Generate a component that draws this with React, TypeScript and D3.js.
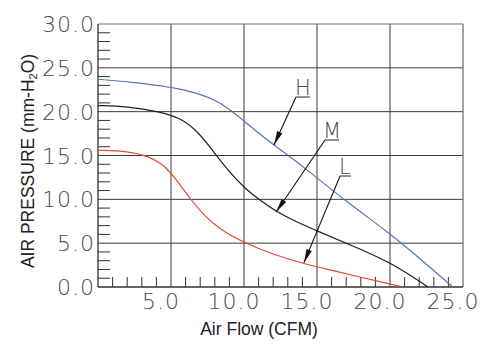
import React from "react";
import * as d3 from "d3";

const xTicks = [5, 10, 15, 20, 25];
const xTickLabels = ["5.0", "10.0", "15.0", "20.0", "25.0"];
const yTicks = [0, 5, 10, 15, 20, 25, 30];
const yTickLabels = ["0.0", "5.0", "10.0", "15.0", "20.0", "25.0", "30.0"];

const flowH = [0, 2.4, 4.25, 6.5, 8, 9, 10, 11.1, 12.1, 13.15, 14.3, 16.8, 20, 21.8, 24.3];
const presH = [23.7, 23.35, 23.0, 22.3, 21.4, 20.3, 18.95, 17.4, 16.15, 14.85, 13.4, 10.0, 6.1, 3.6, 0];

const flowM = [0, 2, 4.25, 5.6, 6.75, 7.9, 8.8, 10, 11.1, 12.2, 13.5, 15, 17, 20, 22.6];
const presM = [20.7, 20.6, 20.0, 19.3, 17.9, 15.5, 13.5, 11.3, 9.9, 8.6, 7.5, 6.4, 5.0, 2.9, 0];

const flowL = [0, 2.1, 3.45, 4.35, 5, 5.7, 6.4, 7.3, 8.25, 10, 12, 14, 16, 18, 20, 20.9];
const presL = [15.6, 15.5, 14.9, 14.1, 13.0, 11.5, 9.9, 8.1, 6.7, 5.05, 3.7, 2.7, 1.9, 1.1, 0.35, 0];

const seriesNames = ["H", "M", "L"];

// annotation leaders (data units): tip on the curve, start at label underline
const annTipX = [12.05, 12.2, 14.1];
const annTipY = [16.2, 8.55, 2.75];
const annFromX = [13.56, 15.55, 16.58];
const annFromY = [21.67, 16.77, 12.66];

const W = 493;
const H = 349;

export default function App() {
  const x = d3.scaleLinear().domain([0, 25]).range([98, 463]);
  const y = d3.scaleLinear().domain([0, 30]).range([287, 24]);

  const line = d3
    .line<[number, number]>()
    .x((d) => x(d[0]))
    .y((d) => y(d[1]))
    .curve(d3.curveBasis);

  const series = [
    { name: "H", pts: flowH.map((f, i) => [f, presH[i]] as [number, number]), color: "#5676b0" },
    { name: "M", pts: flowM.map((f, i) => [f, presM[i]] as [number, number]), color: "#1e1e1e" },
    { name: "L", pts: flowL.map((f, i) => [f, presL[i]] as [number, number]), color: "#de4a30" },
  ];

  const minorX = d3.range(1, 25).filter((v) => v % 5 !== 0);
  const minorY = d3.range(1, 30).filter((v) => v % 5 !== 0);

  const thinFont = "'DejaVu Sans', sans-serif";
  const grid = "#3a3a3a";

  return (
    <svg
      width={W}
      height={H}
      style={{ position: "absolute", left: 0, top: 0, background: "#fff" }}
    >
      <rect x={0} y={0} width={W} height={H} fill="#fff" />
      {xTicks.slice(0, -1).map((t) => (
        <line key={"gx" + t} x1={x(t)} x2={x(t)} y1={y(30)} y2={y(0)} stroke={grid} strokeWidth={1} />
      ))}
      {yTicks.slice(1, -1).map((t) => (
        <line key={"gy" + t} x1={x(0)} x2={x(25)} y1={y(t)} y2={y(t)} stroke={grid} strokeWidth={1} />
      ))}
      <line x1={x(0)} x2={x(25)} y1={y(30)} y2={y(30)} stroke="#777" strokeWidth={1.2} />
      <line x1={x(25)} x2={x(25)} y1={y(30)} y2={y(0)} stroke="#666" strokeWidth={1.2} />
      <line x1={x(0)} x2={x(0)} y1={y(30)} y2={y(0)} stroke="#333" strokeWidth={1.3} />
      <line x1={x(0)} x2={x(25)} y1={y(0)} y2={y(0)} stroke="#333" strokeWidth={1.3} />
      {minorY.map((t) => (
        <line key={"my" + t} x1={x(0)} x2={x(0) + 12} y1={y(t)} y2={y(t)} stroke="#333" strokeWidth={1} />
      ))}
      {minorX.map((t) => (
        <line key={"mx" + t} x1={x(t)} x2={x(t)} y1={y(0)} y2={y(0) - 10} stroke="#333" strokeWidth={1} />
      ))}
      {series.map((s) => (
        <path key={s.name} d={line(s.pts) || ""} fill="none" stroke={s.color} strokeWidth={1.2} />
      ))}
      {yTicks.map((t, i) => (
        <text
          key={"yl" + t}
          x={95}
          y={y(t) + 8}
          textAnchor="end"
          fontFamily={thinFont}
          fontWeight={200}
          fontSize={22}
          letterSpacing={1}
          fill="#4a4a4a"
        >
          {yTickLabels[i]}
        </text>
      ))}
      {xTicks.map((t, i) => (
        <text
          key={"xl" + t}
          x={x(t) - 10}
          y={309}
          textAnchor="middle"
          fontFamily={thinFont}
          fontWeight={200}
          fontSize={22}
          letterSpacing={1}
          fill="#4a4a4a"
        >
          {xTickLabels[i]}
        </text>
      ))}
      <text
        x={259}
        y={335}
        textAnchor="middle"
        fontFamily="'Liberation Sans', Arial, sans-serif"
        fontSize={17.5}
        fill="#222"
      >
        Air Flow (CFM)
      </text>
      <text
        transform="translate(34,161) rotate(-90)"
        textAnchor="middle"
        fontFamily="'Liberation Sans', Arial, sans-serif"
        fontSize={17.5}
        fill="#222"
      >
        AIR PRESSURE (mm-H
        <tspan fontSize={11} dy={3}>2</tspan>
        <tspan dy={-3}>O)</tspan>
      </text>
      {seriesNames.map((n, i) => {
        const tx = x(annTipX[i]);
        const ty = y(annTipY[i]);
        const fx = x(annFromX[i]);
        const fy = y(annFromY[i]);
        const dx = tx - fx;
        const dy = ty - fy;
        const len = Math.hypot(dx, dy);
        const ux = dx / len;
        const uy = dy / len;
        const bx = tx - ux * 14;
        const by = ty - uy * 14;
        const px = -uy * 2.8;
        const py = ux * 2.8;
        const ulLen = i === 2 ? 11 : 14;
        const textX = i === 2 ? fx - 1 : fx + ulLen / 2;
        return (
          <g key={"ann" + n}>
            <line x1={fx} y1={fy} x2={tx} y2={ty} stroke="#111" strokeWidth={1.1} />
            <polygon
              points={`${tx},${ty} ${bx + px},${by + py} ${bx - px},${by - py}`}
              fill="#111"
            />
            <line x1={fx} y1={fy} x2={fx + ulLen} y2={fy} stroke="#333" strokeWidth={1.1} />
            <text
              x={textX}
              y={fy - 2}
              textAnchor={i === 2 ? "start" : "middle"}
              fontFamily={thinFont}
              fontWeight={200}
              fontSize={21}
              fill="#4a4a4a"
            >
              {n}
            </text>
          </g>
        );
      })}
    </svg>
  );
}
